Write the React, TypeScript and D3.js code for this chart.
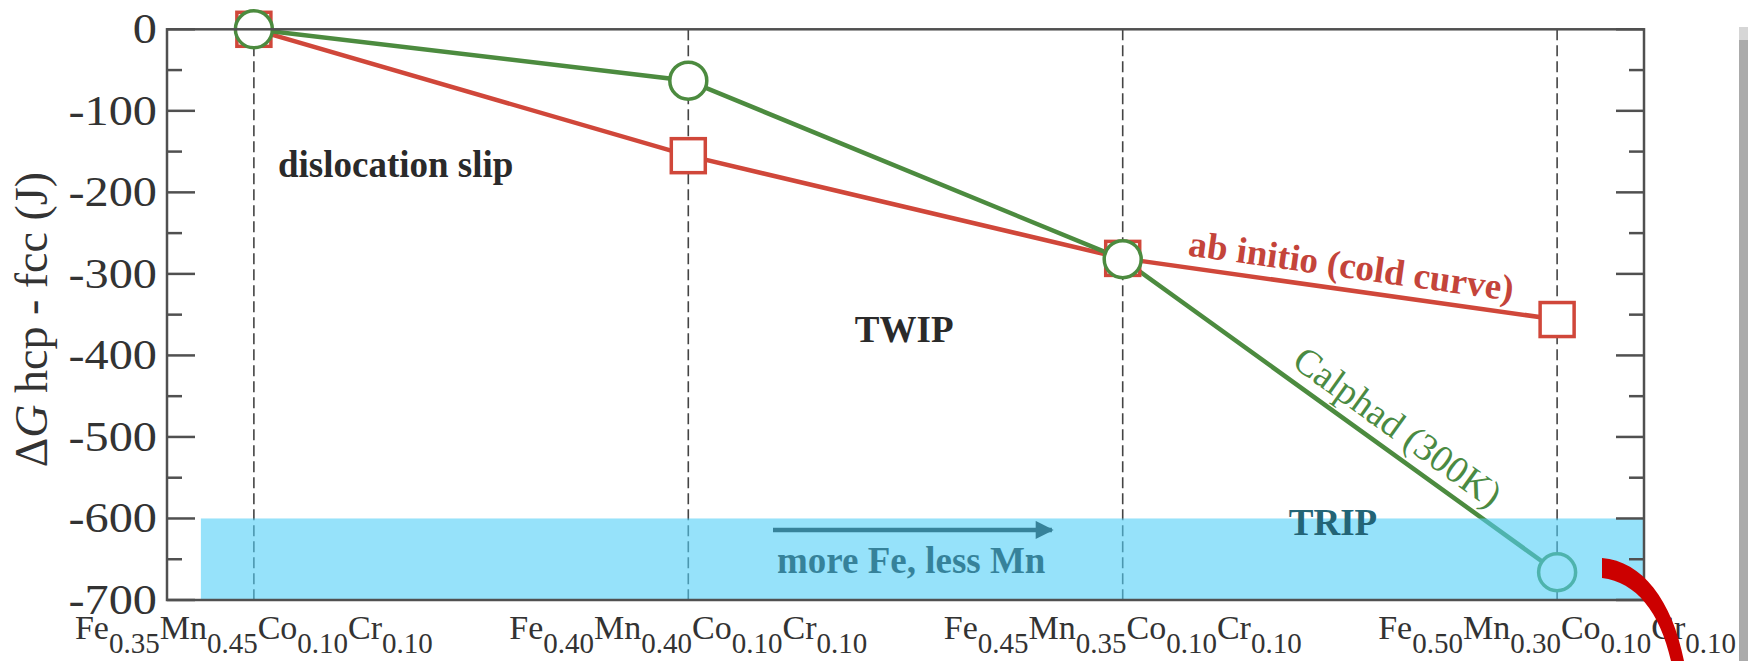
import React from "react";
import * as d3 from "d3";

// ---- data ----
const feFrac = ["0.35", "0.40", "0.45", "0.50"];
const mnFrac = ["0.45", "0.40", "0.35", "0.30"];
const coFrac = ["0.10", "0.10", "0.10", "0.10"];
const crFrac = ["0.10", "0.10", "0.10", "0.10"];
const abInitio = [0, -155, -281, -356];
const calphad = [0, -63, -282, -666];
const yTicks = [0, -100, -200, -300, -400, -500, -600, -700];
const yMinorTicks = [-50, -150, -250, -350, -450, -550, -650];

const W = 1748;
const H = 661;
const FONT = "'Liberation Serif', 'Times New Roman', serif";
const RED = "#d0473a";
const GREEN = "#4c8b3f";

export default function App() {
  const x = d3.scaleLinear().domain([-0.2, 3.2]).range([167, 1644]);
  const y = d3.scaleLinear().domain([0, -700]).range([29.3, 600]);
  const idx = d3.range(abInitio.length);
  const redPath = d3.line<number>().x((i) => x(i)).y((i) => y(abInitio[i]))(idx) as string;
  const greenPath = d3.line<number>().x((i) => x(i)).y((i) => y(calphad[i]))(idx) as string;

  const x0 = x.range()[0];
  const x1 = x.range()[1];
  const y0 = y.range()[0];
  const y1 = y.range()[1];

  // label along red segment 2->3
  const rAng = (Math.atan2(y(abInitio[3]) - y(abInitio[2]), x(3) - x(2)) * 180) / Math.PI;
  const rT = 0.145;
  const rPx = x(2) + (x(3) - x(2)) * rT;
  const rPy = y(abInitio[2]) + (y(abInitio[3]) - y(abInitio[2])) * rT;
  const rRad = (rAng * Math.PI) / 180;
  const rOff = 12;
  // label along green segment 2->3
  const gAng = (Math.atan2(y(calphad[3]) - y(calphad[2]), x(3) - x(2)) * 180) / Math.PI;
  const gT = 0.37;
  const gPx = x(2) + (x(3) - x(2)) * gT;
  const gPy = y(calphad[2]) + (y(calphad[3]) - y(calphad[2])) * gT;
  const gRad = (gAng * Math.PI) / 180;
  const gOff = 12;

  const sq = 34;
  const r = 18.5;
  const bandX = x(-0.122);

  return (
    <svg
      width={W}
      height={H}
      style={{ position: "absolute", left: 0, top: 0, background: "#fff" }}
      fontFamily={FONT}
    >
      <defs>
        <marker id="ah" viewBox="0 0 10 10" refX="9" refY="5" markerWidth="4.5" markerHeight="4" orient="auto" markerUnits="strokeWidth">
          <path d="M0,0 L10,5 L0,10 Z" fill="#111" />
        </marker>
      </defs>
      <rect x={0} y={0} width={W} height={H} fill="#fff" />

      {/* dashed vertical lines */}
      {idx.map((i) => (
        <line key={"v" + i} x1={x(i)} x2={x(i)} y1={y0} y2={y1} stroke="#444" strokeWidth={1.6} strokeDasharray="11 5" />
      ))}

      {/* region labels */}
      <text x={x(0.0555)} y={y(-181)} fontSize={37} fontWeight="bold" fill="#2a2a2a">dislocation slip</text>
      <text x={x(1.497)} y={y(-383)} fontSize={37} fontWeight="bold" fill="#2a2a2a" textAnchor="middle">TWIP</text>

      {/* lines */}
      <path d={redPath} fill="none" stroke={RED} strokeWidth={4.5} />
      <path d={greenPath} fill="none" stroke={GREEN} strokeWidth={4.5} />

      {/* markers */}
      {idx.map((i) => (
        <rect key={"s" + i} x={x(i) - sq / 2} y={y(abInitio[i]) - sq / 2} width={sq} height={sq} fill="#fff" stroke={RED} strokeWidth={3.5} />
      ))}
      {idx.map((i) => (
        <circle key={"c" + i} cx={x(i)} cy={y(calphad[i])} r={r} fill="#fff" stroke={GREEN} strokeWidth={3.5} />
      ))}

      {/* line labels */}
      <text
        transform={`translate(${rPx + rOff * Math.sin(rRad)},${rPy - rOff * Math.cos(rRad)}) rotate(${rAng})`}
        fontSize={37}
        fontWeight="bold"
        fill="#c4443a"
      >
        ab initio (cold curve)
      </text>
      <text
        transform={`translate(${gPx + gOff * Math.sin(gRad)},${gPy - gOff * Math.cos(gRad)}) rotate(${gAng})`}
        fontSize={38}
        fill="#4a8a42"
      >
        Calphad (300K)
      </text>

      {/* arrow + text under the band */}
      <line x1={x(1.195)} x2={x(1.837)} y1={y(-614)} y2={y(-614)} stroke="#111" strokeWidth={4.5} markerEnd="url(#ah)" />
      <text x={x(1.204)} y={y(-667)} fontSize={37} fontWeight="bold" fill="#111">more Fe, less Mn</text>

      {/* translucent TRIP band */}
      <rect x={bandX} y={y(-600)} width={x1 - bandX} height={y(-700) - y(-600)} fill="rgb(80,207,247)" fillOpacity={0.6} />
      <text x={x(2.484)} y={y(-620)} fontSize={37} fontWeight="bold" fill="#236476" textAnchor="middle">TRIP</text>

      {/* frame */}
      <rect x={x0} y={y0} width={x1 - x0} height={y1 - y0} fill="none" stroke="#505050" strokeWidth={2.5} />

      {/* ticks */}
      {yTicks.map((t) => (
        <g key={"t" + t}>
          <line x1={x0} x2={x0 + 28} y1={y(t)} y2={y(t)} stroke="#505050" strokeWidth={2.5} />
          <line x1={x1} x2={x1 - 28} y1={y(t)} y2={y(t)} stroke="#505050" strokeWidth={2.5} />
          <text transform={`translate(157,${y(t) + 14}) scale(1.15,1)`} fontSize={42} fill="#333" textAnchor="end">
            {t === 0 ? "0" : "-" + Math.abs(t)}
          </text>
        </g>
      ))}
      {yMinorTicks.map((t) => (
        <g key={"m" + t}>
          <line x1={x0} x2={x0 + 15} y1={y(t)} y2={y(t)} stroke="#505050" strokeWidth={2.5} />
          <line x1={x1} x2={x1 - 15} y1={y(t)} y2={y(t)} stroke="#505050" strokeWidth={2.5} />
        </g>
      ))}

      {/* x category labels */}
      {idx.map((i) => (
        <text key={"xl" + i} x={x(i)} y={639} fontSize={34} fill="#333" textAnchor="middle">
          <tspan>Fe</tspan>
          <tspan fontSize={29} dy={14}>{feFrac[i]}</tspan>
          <tspan dy={-14}>Mn</tspan>
          <tspan fontSize={29} dy={14}>{mnFrac[i]}</tspan>
          <tspan dy={-14}>Co</tspan>
          <tspan fontSize={29} dy={14}>{coFrac[i]}</tspan>
          <tspan dy={-14}>Cr</tspan>
          <tspan fontSize={29} dy={14}>{crFrac[i]}</tspan>
        </text>
      ))}

      {/* y axis title */}
      <text transform={`translate(47,${(y0 + y1) / 2 + 5}) rotate(-90)`} fontSize={46} fill="#333" textAnchor="middle">
        Δ<tspan fontStyle="italic">G</tspan> hcp - fcc (J)
      </text>

      {/* decorations: grey side bar and red swoosh */}
      <rect x={1739} y={27} width={9} height={14} fill="#d6d6d6" />
      <rect x={1739} y={40} width={9} height={621} fill="#ababab" />
      <path d="M1602,558 C1642,561 1672,600 1684,661 L1671,661 C1660,612 1636,582 1602,578 Z" fill="#cc0000" />
    </svg>
  );
}
